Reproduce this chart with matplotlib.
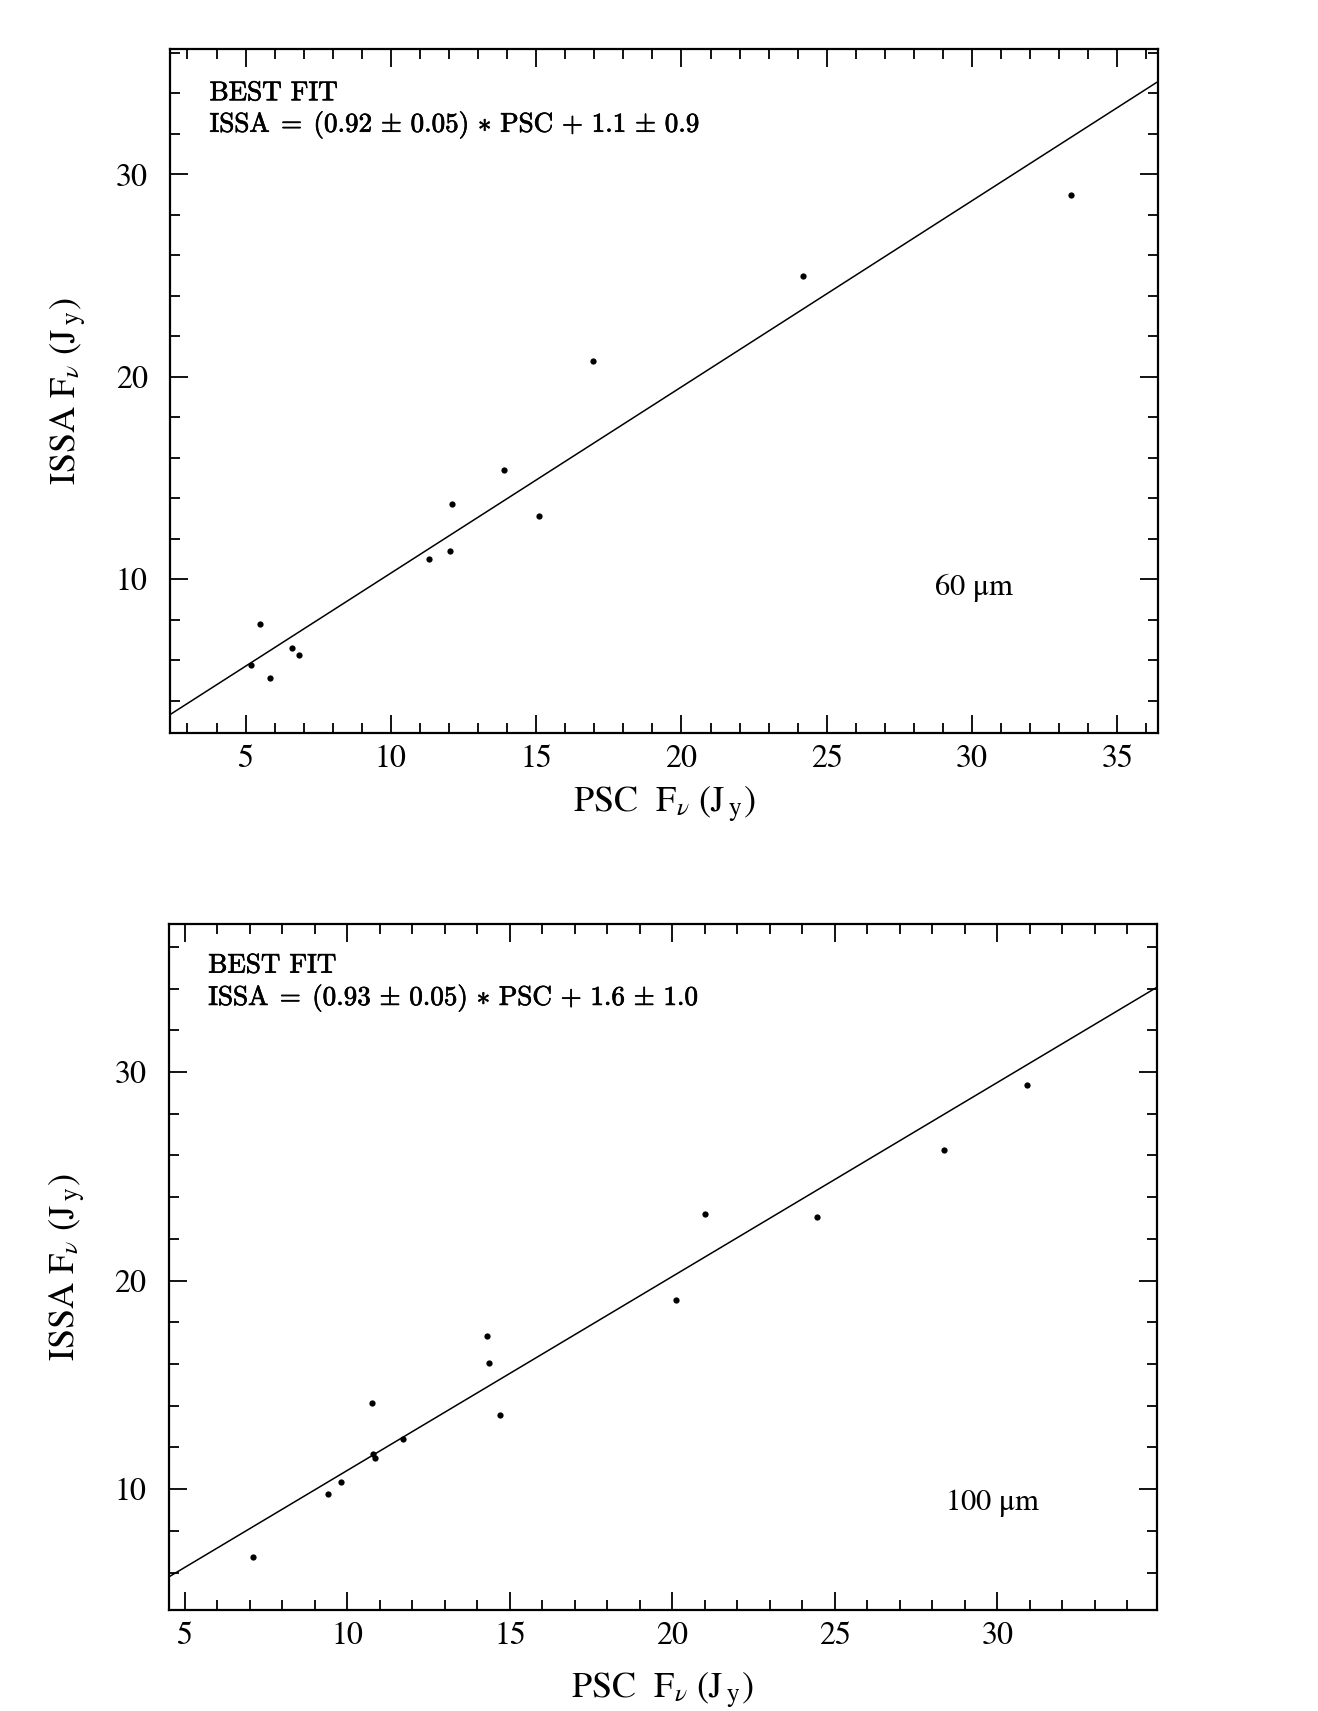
import numpy as np
import matplotlib
matplotlib.use("Agg")
import matplotlib.pyplot as plt
import matplotlib.patheffects as pe
from matplotlib.ticker import MultipleLocator

plt.rcParams["font.family"] = ["STIXGeneral", "DejaVu Serif"]
plt.rcParams["mathtext.fontset"] = "stix"

# --- 60 micron: PSC vs ISSA flux (Jy) ---
psc_60 = [5.2, 5.5, 5.85, 6.6, 6.85, 11.3, 12.05, 12.1, 13.9, 15.1, 16.95, 24.2, 33.4]
issa_60 = [5.75, 7.8, 5.1, 6.6, 6.25, 11.0, 11.4, 13.7, 15.4, 13.1, 20.8, 25.0, 29.0]
slope_60, icpt_60 = 0.92, 1.1
fit_text_60 = (r"$\mathrm{ISSA}\;=\;(0.92\,\pm\,0.05)\,\ast\,\mathrm{PSC}"
               r"\,+\,1.1\,\pm\,0.9$")

# --- 100 micron ---
psc_100 = [7.1, 9.4, 9.8, 10.75, 10.8, 10.85, 11.7, 14.3, 14.35, 14.7,
           20.1, 21.0, 24.45, 28.35, 30.9]
issa_100 = [6.75, 9.75, 10.35, 14.15, 11.7, 11.5, 12.4, 17.35, 16.05, 13.55,
            19.05, 23.2, 23.05, 26.25, 29.4]
slope_100, icpt_100 = 0.93, 1.6
fit_text_100 = (r"$\mathrm{ISSA}\;=\;(0.93\,\pm\,0.05)\,\ast\,\mathrm{PSC}"
                r"\,+\,1.6\,\pm\,1.0$")

xlabel = r"PSC  F$_{\nu}$ (J$\,_{\mathrm{y}}$)"
ylabel = r"ISSA F$_{\nu}$ (J$\,_{\mathrm{y}}$)"

# scanned print: thicken the CM text a little
thick = [pe.withStroke(linewidth=0.5, foreground="black")]

fig = plt.figure(figsize=(13.18, 17.11), dpi=100)
ax1 = fig.add_axes([0.129, 0.5716, 0.7496, 0.3998])
ax2 = fig.add_axes([0.128, 0.059, 0.7496, 0.401])


def panel(ax, x, y, slope, icpt, xlim, ylim, fit_text, band, band_pos, txt_y, xlab_y):
    ax.set_xlim(*xlim); ax.set_ylim(*ylim)
    xs = np.array(xlim)
    ax.plot(xs, slope * xs + icpt, color="black", lw=1.1)
    ax.plot(x, y, "o", color="black", ms=4.5, mec="none")

    ax.xaxis.set_major_locator(MultipleLocator(5))
    ax.xaxis.set_minor_locator(MultipleLocator(1))
    ax.yaxis.set_major_locator(MultipleLocator(10))
    ax.yaxis.set_minor_locator(MultipleLocator(2))
    ax.tick_params(which="both", direction="in", top=True, right=True,
                   width=1.3, labelsize=23)
    ax.tick_params(which="major", length=13)
    ax.tick_params(which="minor", length=7)
    ax.tick_params(axis="x", pad=8)
    ax.tick_params(axis="y", pad=16)
    for s in ax.spines.values():
        s.set_linewidth(1.6)

    ax.set_xlabel(xlabel, fontsize=26)
    ax.xaxis.set_label_coords(0.5, xlab_y)
    ax.set_ylabel(ylabel, fontsize=26)
    ax.yaxis.set_label_coords(-0.082, 0.5)

    ax.text(0.040, txt_y[0], "BEST FIT", transform=ax.transAxes, fontsize=19.5,
            family="cmr10", va="baseline", path_effects=thick)
    ax.text(0.040, txt_y[1], fit_text, transform=ax.transAxes, fontsize=19.5,
            math_fontfamily="cm", va="baseline", path_effects=thick)
    ax.text(band_pos[0], band_pos[1], band, transform=ax.transAxes, fontsize=22,
            va="baseline")


panel(ax1, psc_60, issa_60, slope_60, icpt_60, (2.4, 36.4), (2.4, 36.2),
      fit_text_60, r"60 $\mathrm{\mu}$m", (0.773, 0.202), (0.925, 0.879), -0.076)
panel(ax2, psc_100, issa_100, slope_100, icpt_100, (4.5, 34.9), (4.2, 37.1),
      fit_text_100, r"100 $\mathrm{\mu}$m", (0.786, 0.146), (0.929, 0.882), -0.089)

fig.savefig("out.png", dpi=100)
plt.close(fig)
